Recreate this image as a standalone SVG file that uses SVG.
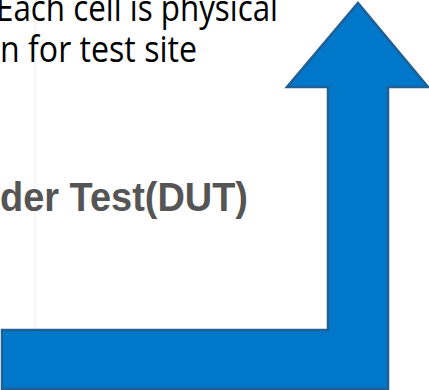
<svg xmlns="http://www.w3.org/2000/svg" width="429" height="390" viewBox="0 0 429 390">
  <style>
    .cap { font-family: "Open Sans", "Liberation Sans", sans-serif; font-size: 37px; fill: #000000; }
    .dut { font-family: "Liberation Sans", Arial, sans-serif; font-weight: bold; font-size: 40px; fill: #555555; }
    .arrow { fill: #0077C8; stroke: #1f5f96; stroke-width: 2.5; stroke-linejoin: miter; }
  </style>
  <rect x="0" y="0" width="429" height="390" fill="#ffffff"/>
  <line x1="35" y1="0" x2="35" y2="390" stroke="#f7f7f7" stroke-width="2"/>
  <g id="caption">
    <text class="cap" x="-4" y="21" textLength="282" lengthAdjust="spacingAndGlyphs">Each cell is physical</text>
    <text class="cap" x="0" y="62" textLength="197" lengthAdjust="spacingAndGlyphs">n for test site</text>
  </g>
  <g id="dut-label">
    <text class="dut" x="0" y="211" textLength="248" lengthAdjust="spacingAndGlyphs">der Test(DUT)</text>
  </g>
  <g id="connectors">
    <polygon class="arrow" points="358,3 428,87 388,87 388,389 2,389 2,330 328,330 328,87 287,87"/>
  </g>
</svg>
